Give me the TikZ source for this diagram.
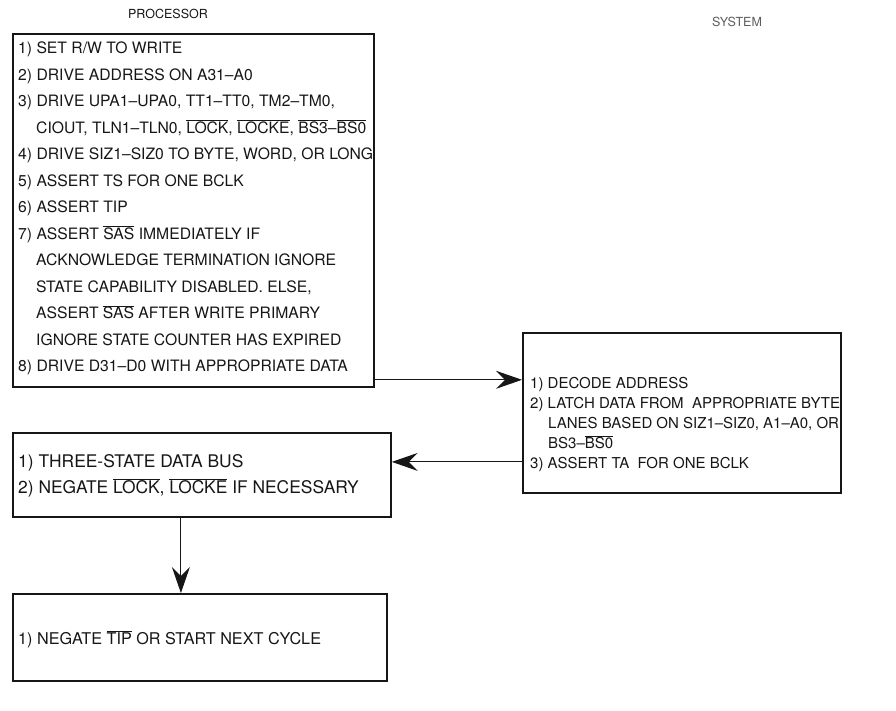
\documentclass[tikz,border=0pt]{standalone}
\usepackage{fontspec}
\setmainfont{TeX Gyre Heros}
\usetikzlibrary{arrows.meta,positioning}
\definecolor{ink}{HTML}{161616}
\newcommand{\actlow}[1]{$\overline{\mbox{#1}}$}
\newcommand{\stepindent}{\hspace*{18pt}}
\tikzset{
  >={Stealth[length=26pt,width=18pt,inset=9pt]},
  every node/.style={text=ink,inner sep=0pt},
  stepframe/.style={draw=ink,line width=1.8pt,anchor=north west},
  steps/.style={align=left,anchor=north west,font=\fontsize{15.7}{26.5}\selectfont},
  tightsteps/.style={steps,font=\fontsize{15}{20}\selectfont},
  widesteps/.style={steps,font=\fontsize{17.4}{26}\selectfont},
  head/.style={font=\fontsize{12.5}{14}\selectfont},
  flow/.style={->,line width=1pt,draw=ink},
}
\begin{document}
\begin{tikzpicture}[x=1pt,y=-1pt]
\useasboundingbox (0,0) rectangle (896,711);
% column heads
\node[head] (proc) at (168,14) {PROCESSOR};
\node[head,text=ink!70] (sys) at (737,22) {SYSTEM};
% processor: write request
\node[stepframe,minimum width=361pt,minimum height=353pt] (wr) at (12,33) {};
\node[steps,below right=9pt and 6pt of wr.north west] (wrtxt) {%
1) SET R/W TO WRITE\\
2) DRIVE ADDRESS ON A31--A0\\
3) DRIVE UPA1--UPA0, TT1--TT0, TM2--TM0,\\
\stepindent CIOUT, TLN1--TLN0, \actlow{LOCK}, \actlow{LOCKE}, \actlow{BS3}--\actlow{BS0}\\
4) DRIVE SIZ1--SIZ0 TO BYTE, WORD, OR LONG\\
5) ASSERT TS FOR ONE BCLK\\
6) ASSERT TIP\\
7) ASSERT \actlow{SAS} IMMEDIATELY IF\\
\stepindent ACKNOWLEDGE TERMINATION IGNORE\\
\stepindent STATE CAPABILITY DISABLED. ELSE,\\
\stepindent ASSERT \actlow{SAS} AFTER WRITE PRIMARY\\
\stepindent IGNORE STATE COUNTER HAS EXPIRED\\
8) DRIVE D31--D0 WITH APPROPRIATE DATA};
% system: accept data
\node[stepframe,minimum width=318pt,minimum height=160pt] (acc) at (522,332) {};
\node[tightsteps,below right=45pt and 8pt of acc.north west] (acctxt) {%
1) DECODE ADDRESS\\
2) LATCH DATA FROM\ \ APPROPRIATE BYTE\\
\stepindent LANES BASED ON SIZ1--SIZ0, A1--A0, OR\\
\stepindent BS3--\actlow{BS0}\\
3) ASSERT TA\ \ FOR ONE BCLK};
% processor: release bus
\node[stepframe,minimum width=378pt,minimum height=84pt] (rel) at (12,432) {};
\node[widesteps,below right=22pt and 6pt of rel.north west] (reltxt) {%
1) THREE-STATE DATA BUS\\
2) NEGATE \actlow{LOCK}, \actlow{LOCKE} IF NECESSARY};
% processor: next cycle
\node[stepframe,minimum width=374pt,minimum height=87pt] (nxt) at (12,593) {};
\node[steps,below right=37pt and 6pt of nxt.north west,font=\fontsize{16.2}{20}\selectfont] (nxttxt) {%
1) NEGATE \actlow{TIP} OR START NEXT CYCLE};
% handshakes
\coordinate (wrout) at ([yshift=8pt]wr.south east);
\coordinate (relin) at ([yshift=13pt]rel.east);
\coordinate (reldown) at ([xshift=-21pt]rel.south);
\draw[flow] (wrout) -- (wrout -| acc.west);
\draw[flow] (relin -| acc.west) -- (relin);
\draw[flow] (reldown) -- (reldown |- nxt.north);
\end{tikzpicture}
\end{document}
